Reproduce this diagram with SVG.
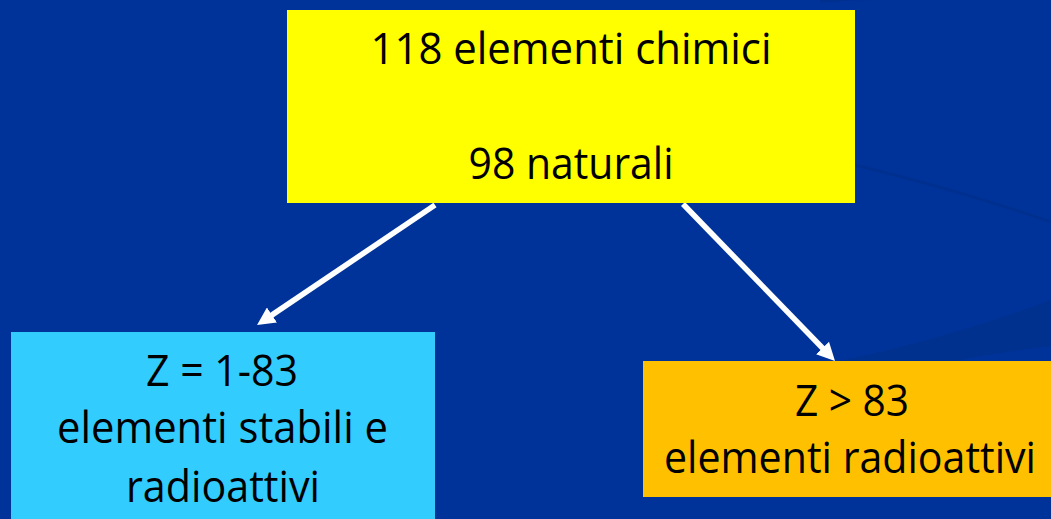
<svg xmlns="http://www.w3.org/2000/svg" width="1051" height="519" viewBox="0 0 1051 519">
  <style>
    .lbl { font-family: "Open Sans", "Noto Sans", "Liberation Sans", sans-serif; font-size: 44px; fill: #000000; text-anchor: middle; }
    .conn { stroke: #ffffff; stroke-width: 5.5; fill: none; marker-end: url(#head); }
  </style>
  <defs>
    <marker id="head" viewBox="0 0 18 18" refX="2" refY="9" markerWidth="18" markerHeight="18" markerUnits="userSpaceOnUse" orient="auto">
      <path d="M0,0 L18,9 L0,18 Z" fill="#ffffff"/>
    </marker>
  </defs>

  <g id="background">
    <rect x="0" y="0" width="1051" height="519" fill="#003399"/>
    <path d="M780,148 Q930,180 1051,222" stroke="#00308f" stroke-width="3" fill="none"/>
    <path d="M835,362 Q950,338 1051,300 L1051,346 Q1000,352 950,362 Z" fill="#00318f"/>
    <path d="M820,3 Q850,0 880,0 L820,0 Z" fill="#00308f"/>
  </g>

  <g id="connectors">
    <path class="conn" d="M435,205 L270.3,316.1"/>
    <path class="conn" d="M683,204 L823.9,349.5"/>
  </g>

  <g id="node-top">
    <rect x="287" y="10" width="568" height="193" fill="#ffff00"/>
    <text class="lbl" x="571" y="64" textLength="401" lengthAdjust="spacingAndGlyphs">118 elementi chimici</text>
    <text class="lbl" x="571" y="179" textLength="205" lengthAdjust="spacingAndGlyphs">98 naturali</text>
  </g>

  <g id="node-stable">
    <rect x="11" y="332" width="424" height="187" fill="#33ccff"/>
    <text class="lbl" x="222" y="386" textLength="152" lengthAdjust="spacingAndGlyphs">Z = 1-83</text>
    <text class="lbl" x="222.5" y="443" textLength="331" lengthAdjust="spacingAndGlyphs">elementi stabili e</text>
    <text class="lbl" x="223" y="502" textLength="194" lengthAdjust="spacingAndGlyphs">radioattivi</text>
  </g>

  <g id="node-radioactive">
    <rect x="643" y="361" width="408" height="136" fill="#ffc000"/>
    <text class="lbl" x="852" y="416" textLength="114" lengthAdjust="spacingAndGlyphs">Z &gt; 83</text>
    <text class="lbl" x="850" y="473" textLength="372" lengthAdjust="spacingAndGlyphs">elementi radioattivi</text>
  </g>
</svg>
